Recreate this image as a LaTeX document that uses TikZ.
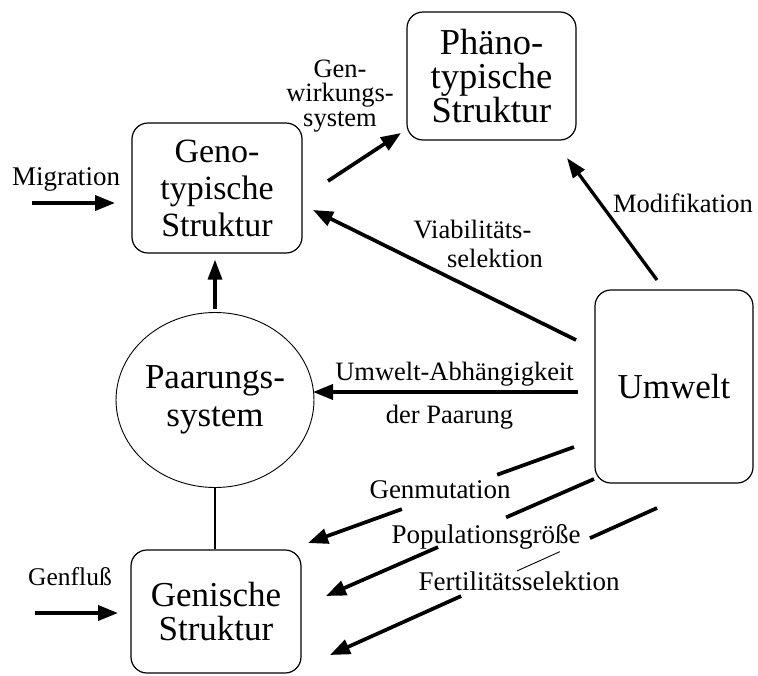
\documentclass[tikz,border=0pt]{standalone}
\usepackage{fontspec}
\setmainfont{Liberation Serif}
\usetikzlibrary{arrows.meta,shapes.geometric,calc}
\begin{document}
\begin{tikzpicture}[x=1pt,y=-1pt,
  box/.style={draw, line width=1.2pt, rounded corners=16pt, align=center, inner sep=0pt,
    font=\fontsize{34}{37}\selectfont},
  lbl/.style={inner sep=0pt, font=\fontsize{26.5}{24.5}\selectfont, align=center},
  lblb/.style={lbl, anchor=base},
  arr/.style={line width=3.7pt, -{Triangle[length=20pt,width=15pt]}},
  arrs/.style={line width=3.3pt, -{Triangle[length=20pt,width=14pt]}},
  seg/.style={line width=3.7pt},
  thinseg/.style={line width=0.9pt},
]
\useasboundingbox (0,0) rectangle (758,675);

% boxes
\node[box, minimum width=169pt, minimum height=128pt, font=\fontsize{36.5}{34}\selectfont] (pheno) at (491.5,76) {Phäno-\\typische\\Struktur};
\node[box, minimum width=170pt, minimum height=130pt] (geno) at (217,188) {Geno-\\typische\\Struktur};
\node[draw, ellipse, line width=0.9pt, minimum width=157pt, minimum height=175pt, inner sep=0pt,
  align=center, font=\fontsize{35}{38}\selectfont] (paar) at (215,400) {Paarungs-\\system};
\node[box, minimum width=170pt, minimum height=123pt, font=\fontsize{35}{34}\selectfont] (gen) at (216,611.5) {Genische\\Struktur};
\node[box, minimum width=158pt, minimum height=193pt, font=\fontsize{35}{37}\selectfont] (umwelt) at (674,386.5) {Umwelt};

% labels
\node[lbl] (genwL) at (340,96) {Gen-\\wirkungs-\\system};
\node[lblb] (modL) at (683,212) {Modifikation};
\node[lblb] (viab1) at (472.5,238) {Viabilitäts-};
\node[lblb] (viab2) at (495,267) {selektion};
\node[lblb] (umwL1) at (454.5,380) {Umwelt-Abhängigkeit};
\node[lblb] (umwL2) at (449.5,423) {der Paarung};
\node[lblb, font=\fontsize{27}{27}\selectfont] (genmL) at (440,498) {Genmutation};
\node[lblb, font=\fontsize{27}{27}\selectfont] (popL) at (486,543) {Populationsgröße};
\node[lblb, font=\fontsize{27}{27}\selectfont] (fertL) at (519,590) {Fertilitätsselektion};
\node[lblb, font=\fontsize{27}{27}\selectfont] (migL) at (66,185) {Migration};
\node[lblb, font=\fontsize{25.5}{25}\selectfont] (gflL) at (70,585) {Genfluß};

% connector end points
\coordinate (mig0) at (32,203);   \coordinate (mig1) at (115,203);
\coordinate (gfl0) at (35,613);   \coordinate (gfl1) at (118,613);
\coordinate (gw0) at (328,181);   \coordinate (gw1) at (401,133);
\coordinate (mod0) at (657,280);  \coordinate (mod1) at (567,158);
\coordinate (via0) at (576,340);  \coordinate (via1) at (313,210);
\coordinate (up0) at (578,392);   \coordinate (up1) at (313,392);
\coordinate (gm0) at (574,447);   \coordinate (gm1) at (308,543);
\coordinate (po0) at (594,479);   \coordinate (po1) at (326,596);
\coordinate (fe0) at (657,508);   \coordinate (fe1) at (330,655);

% connectors
\draw[arr] (mig0) -- (mig1);
\draw[arr] (gfl0) -- (gfl1);
\draw[arr] (gw0) -- (gw1);
\draw[arrs] (mod0) -- (mod1);
\draw[arr] (via0) -- (via1);
\draw[arr] (up0) -- (up1);
\draw[arrs] (paar.north) ++(0,-3) -- ([yshift=-6pt]paar.north |- geno.south);
\draw[line width=2pt] (paar.south) -- (paar.south |- gen.north);

% broken connectors from Umwelt to Genische Struktur
\draw[seg] (gm0) -- ($(gm0)!0.289!(gm1)$);
\draw[arr] ($(gm0)!0.647!(gm1)$) -- (gm1);
\draw[seg] (po0) -- ($(po0)!0.328!(po1)$);
\draw[arr] ($(po0)!0.582!(po1)$) -- (po1);
\draw[seg] (fe0) -- ($(fe0)!0.205!(fe1)$);
\draw[thinseg] ($(fe0)!0.297!(fe1)$) -- ($(fe0)!0.428!(fe1)$);
\draw[arr] ($(fe0)!0.599!(fe1)$) -- (fe1);
\end{tikzpicture}
\end{document}
